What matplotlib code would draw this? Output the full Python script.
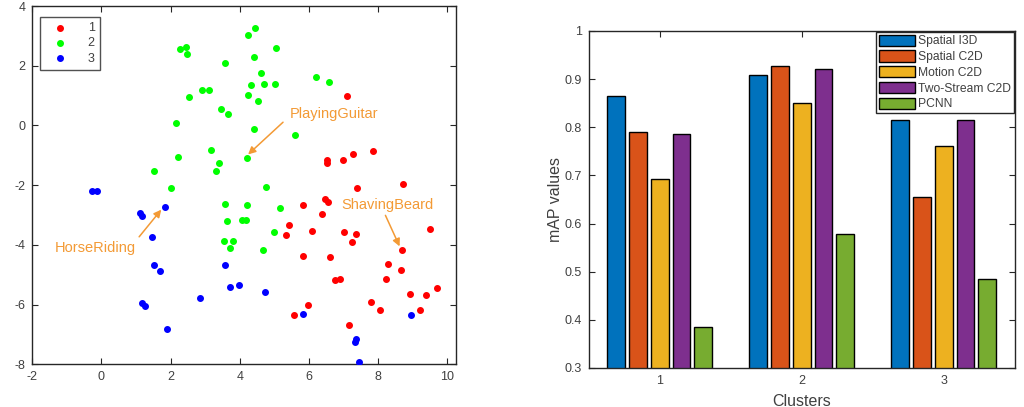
import numpy as np
import matplotlib.pyplot as plt

plt.rcParams['font.family'] = ['Liberation Sans', 'DejaVu Sans']
plt.rcParams['axes.unicode_minus'] = False

# ---- left panel: 2-D embedding, three clusters ----
x1 = [7.10, 6.52, 6.53, 6.97, 7.28, 7.85, 7.39, 8.73, 5.82, 6.45, 6.55, 6.37,
      5.42, 5.33, 6.10, 7.02, 7.37, 7.23, 9.49, 8.68, 5.82, 6.62, 8.29, 8.66,
      8.23, 6.76, 6.90, 8.92, 9.37, 9.70, 7.80, 8.06, 9.22, 5.96, 5.56, 7.17]
y1 = [0.98, -1.14, -1.25, -1.14, -0.97, -0.86, -2.11, -1.97, -2.65, -2.46, -2.57, -2.97,
      -3.33, -3.66, -3.54, -3.56, -3.65, -3.91, -3.46, -4.18, -4.38, -4.42, -4.64, -4.83,
      -5.13, -5.19, -5.13, -5.64, -5.69, -5.46, -5.90, -6.19, -6.17, -6.01, -6.36, -6.70]

x2 = [4.24, 4.43, 2.26, 2.44, 2.46, 5.06, 3.58, 4.40, 4.62, 4.31, 4.69, 5.01,
      2.92, 3.10, 2.53, 4.24, 4.52, 6.19, 6.57, 3.47, 3.65, 2.15, 4.41, 5.61,
      3.18, 2.21, 4.22, 3.40, 3.32, 1.51, 2.02, 4.77, 3.58, 4.21, 5.15, 3.63,
      4.05, 4.17, 4.98, 3.54, 3.79, 3.73, 4.68]
y2 = [3.03, 3.26, 2.55, 2.63, 2.38, 2.58, 2.09, 2.31, 1.76, 1.36, 1.40, 1.40,
      1.18, 1.19, 0.94, 1.02, 0.82, 1.61, 1.45, 0.56, 0.38, 0.10, -0.12, -0.33,
      -0.83, -1.06, -1.10, -1.24, -1.53, -1.51, -2.11, -2.05, -2.64, -2.65, -2.76, -3.20,
      -3.17, -3.18, -3.56, -3.88, -3.88, -4.10, -4.18]

x3 = [-0.27, -0.14, 1.11, 1.18, 1.83, 1.45, 1.51, 1.69, 1.16, 1.25, 1.90,
      2.86, 3.57, 3.73, 3.98, 4.72, 5.82, 7.32, 7.37, 7.45, 8.94]
y3 = [-2.18, -2.18, -2.93, -3.04, -2.74, -3.72, -4.66, -4.86, -5.95, -6.04, -6.81,
      -5.77, -4.67, -5.41, -5.36, -5.58, -6.32, -7.26, -7.15, -7.94, -6.35]

# ---- right panel: mAP per cluster ----
clusters = ['1', '2', '3']
methods = ['Spatial I3D', 'Spatial C2D', 'Motion C2D', 'Two-Stream C2D', 'PCNN']
spatial_i3d = [0.864, 0.908, 0.814]
spatial_c2d = [0.790, 0.927, 0.655]
motion_c2d = [0.692, 0.851, 0.760]
two_stream_c2d = [0.786, 0.920, 0.815]
pcnn = [0.384, 0.578, 0.485]
values = [spatial_i3d, spatial_c2d, motion_c2d, two_stream_c2d, pcnn]
colors = ['#0072BD', '#D95319', '#EDB120', '#7E2F8E', '#77AC30']

axis_col = '#262626'
text_col = '#404040'
orange = '#F39A35'

fig = plt.figure(figsize=(10.24, 4.07), dpi=100)

# left
ax1 = fig.add_axes([0.0315, 0.105, 0.4138, 0.880])
ax1.scatter(x1, y1, s=16, color='#FF0000', label='1', zorder=3)
ax1.scatter(x2, y2, s=16, color='#00FF00', label='2', zorder=3)
ax1.scatter(x3, y3, s=16, color='#0000FF', label='3', zorder=3)
ax1.set_xlim(-2, 10.25)
ax1.set_ylim(-8, 4)
ax1.set_xticks(np.arange(-2, 11, 2))
ax1.set_yticks(np.arange(-8, 5, 2))

arrow = dict(arrowstyle='-|>', color=orange, lw=1.1, mutation_scale=11,
             shrinkA=0, shrinkB=0)
ax1.annotate('', xy=(4.24, -0.97), xytext=(5.25, 0.11), arrowprops=arrow)
ax1.text(5.43, 0.37, 'PlayingGuitar', color=orange, fontsize=10.5,
         ha='left', va='center')
ax1.annotate('', xy=(8.62, -4.05), xytext=(8.21, -3.01), arrowprops=arrow)
ax1.text(6.94, -2.68, 'ShavingBeard', color=orange, fontsize=10.5,
         ha='left', va='center')
ax1.annotate('', xy=(1.73, -2.82), xytext=(1.09, -3.73), arrowprops=arrow)
ax1.text(-1.36, -4.12, 'HorseRiding', color=orange, fontsize=10.5,
         ha='left', va='center')

leg1 = ax1.legend(loc='upper left', fontsize=9, handletextpad=1.0,
                  borderpad=0.4, labelspacing=0.25, fancybox=False,
                  handlelength=2.4, bbox_to_anchor=(0.004, 0.986))
leg1.get_frame().set_edgecolor(axis_col)
leg1.get_frame().set_linewidth(1.0)
for t in leg1.get_texts():
    t.set_color(text_col)

# right
ax2 = fig.add_axes([0.575, 0.096, 0.416, 0.828])
pos = np.arange(1, len(clusters) + 1)
step = 0.153
width = 0.125
for i, (m, v, c) in enumerate(zip(methods, values, colors)):
    ax2.bar(pos + (i - 2) * step, v, width, color=c, edgecolor='black',
            linewidth=1.0, label=m, zorder=2)
ax2.set_xlim(0.5, 3.5)
ax2.set_ylim(0.3, 1.0)
ax2.set_xticks(pos)
ax2.set_xticklabels(clusters)
ax2.set_yticks(np.arange(0.3, 1.01, 0.1))
ax2.set_yticklabels(['0.3', '0.4', '0.5', '0.6', '0.7', '0.8', '0.9', '1'])
ax2.set_xlabel('Clusters', fontsize=11.5, color=text_col, labelpad=5)
ax2.set_ylabel('mAP values', fontsize=11.5, color=text_col, labelpad=1)

leg2 = ax2.legend(loc='upper right', fontsize=8.7, fancybox=False,
                  handlelength=3.0, handleheight=1.05, labelspacing=0.25,
                  handletextpad=0.25, borderpad=0.2, borderaxespad=0.1)
leg2.get_frame().set_edgecolor(axis_col)
leg2.get_frame().set_linewidth(1.0)
leg2.get_frame().set_alpha(1)
for t in leg2.get_texts():
    t.set_color(text_col)

for ax in (ax1, ax2):
    ax.tick_params(direction='in', top=True, right=True, length=4,
                   width=0.8, labelsize=9, color=axis_col,
                   labelcolor=text_col, pad=5)
    for sp in ax.spines.values():
        sp.set_color(axis_col)
        sp.set_linewidth(1.0)

fig.savefig('out.png', dpi=100)
